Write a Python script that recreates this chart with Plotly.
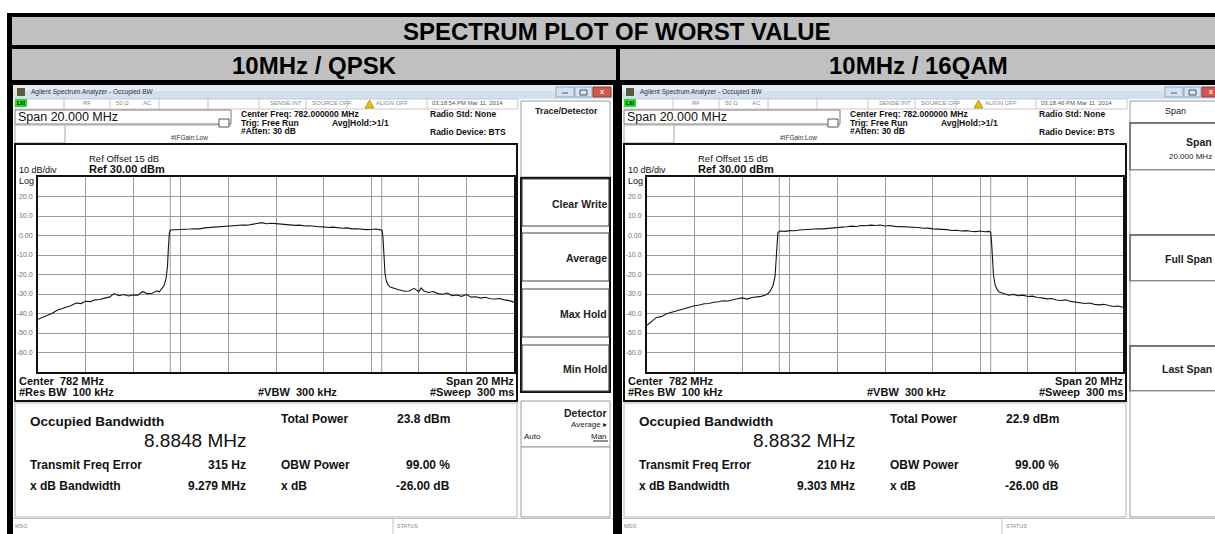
import plotly.graph_objects as go

W, H = 1215, 534
FONT = "Liberation Sans, Arial, Helvetica, sans-serif"

# ---------------- data ----------------
CENTER_MHZ = 782.0
SPAN_MHZ = 20.0
REF_DBM = 30.0
DB_PER_DIV = 10.0

ytick_vals = [20, 10, 0, -10, -20, -30, -40, -50, -60]
ytick_text = ["20.0", "10.0", "0.00", "-10.0", "-20.0", "-30.0", "-40.0", "-50.0", "-60.0"]

qpsk_offset_mhz = [
    -10.0, -9.8, -9.6, -9.4, -9.2, -9.0, -8.8, -8.6, -8.4, -8.2, -8.0, -7.8, -7.6, -7.4, -7.2,
    -7.0, -6.8, -6.6, -6.4, -6.2, -6.0, -5.8, -5.6, -5.4, -5.2, -5.0, -4.9, -4.8, -4.7, -4.62,
    -4.56, -4.52, -4.48, -4.44, -4.2, -4.0, -3.8, -3.6, -3.4, -3.2, -3.0, -2.8, -2.6, -2.4, -2.2,
    -2.0, -1.8, -1.6, -1.4, -1.2, -1.0, -0.8, -0.6, -0.4, -0.2, 0.0, 0.2, 0.4, 0.6, 0.8,
    1.0, 1.2, 1.4, 1.6, 1.8, 2.0, 2.2, 2.4, 2.6, 2.8, 3.0, 3.2, 3.4, 3.6, 3.8,
    4.0, 4.2, 4.4, 4.46, 4.5, 4.54, 4.58, 4.64, 4.72, 4.82, 5.0, 5.2, 5.4, 5.6, 5.8,
    6.0, 6.1, 6.2, 6.4, 6.6, 6.8, 7.0, 7.2, 7.4, 7.6, 7.8, 8.0, 8.2, 8.4, 8.6,
    8.8, 9.0, 9.2, 9.4, 9.6, 9.8, 10.0]
qpsk_dbm = [
    -43.0, -41.9, -40.6, -39.9, -38.3, -37.6, -36.5, -35.9, -34.6, -34.9, -33.7, -33.9, -33.0, -32.8, -32.1,
    -31.6, -29.8, -30.9, -30.3, -31.0, -30.5, -30.6, -28.7, -29.9, -29.6, -28.4, -28.9, -27.2, -25.5, -22.0,
    -16.0, -6.0, 1.5, 2.8, 2.9, 3.1, 2.9, 3.3, 3.5, 3.4, 3.9, 4.1, 4.3, 4.2, 4.7,
    4.9, 4.8, 5.2, 5.4, 5.3, 5.7, 5.9, 6.6, 6.0, 6.3, 6.1, 5.9, 5.5, 5.6, 5.2,
    5.3, 4.9, 5.0, 4.6, 4.5, 4.4, 4.1, 4.3, 3.9, 3.7, 3.9, 3.4, 3.5, 3.2, 3.0,
    3.1, 3.3, 2.9, 2.6, -2.0, -12.0, -19.5, -23.5, -25.6, -26.6, -27.4, -27.9, -28.6, -28.5, -27.1,
    -28.8, -26.9, -28.3, -29.2, -28.7, -29.8, -30.1, -29.5, -30.8, -30.5, -31.2, -30.3, -31.6, -31.4, -32.1,
    -31.7, -32.4, -32.6, -32.3, -33.0, -33.4, -34.2]

qam_offset_mhz = [
    -10.0, -9.8, -9.6, -9.4, -9.2, -9.0, -8.8, -8.6, -8.4, -8.2, -8.0, -7.8, -7.6, -7.4, -7.2,
    -7.0, -6.8, -6.6, -6.4, -6.2, -6.0, -5.8, -5.6, -5.4, -5.2, -5.0, -4.9, -4.8, -4.7, -4.62,
    -4.58, -4.54, -4.5, -4.4, -4.2, -4.0, -3.8, -3.6, -3.4, -3.2, -3.0, -2.8, -2.6, -2.4, -2.2,
    -2.0, -1.8, -1.6, -1.4, -1.2, -1.0, -0.8, -0.6, -0.4, -0.2, 0.0, 0.2, 0.4, 0.6, 0.8,
    1.0, 1.2, 1.4, 1.6, 1.8, 2.0, 2.2, 2.4, 2.6, 2.8, 3.0, 3.2, 3.4, 3.6, 3.8,
    4.0, 4.2, 4.4, 4.44, 4.48, 4.52, 4.56, 4.62, 4.7, 4.8, 5.0, 5.2, 5.4, 5.6, 5.8,
    6.0, 6.2, 6.4, 6.6, 6.8, 7.0, 7.2, 7.4, 7.6, 7.8, 8.0, 8.2, 8.4, 8.6, 8.8,
    9.0, 9.2, 9.4, 9.6, 9.8, 10.0]
qam_dbm = [
    -46.0, -44.2, -42.0, -41.6, -40.3, -39.5, -38.8, -37.9, -37.2, -36.4, -36.0, -35.6, -35.0, -34.9, -34.2,
    -34.0, -33.5, -33.6, -32.9, -32.4, -32.0, -32.6, -31.8, -31.6, -31.2, -30.4, -29.6, -28.0, -25.5, -21.0,
    -13.0, -3.0, 1.6, 2.3, 2.1, 2.5, 2.4, 2.8, 3.0, 2.9, 3.3, 3.5, 3.4, 3.7, 4.0,
    4.1, 4.3, 4.5, 4.8, 4.6, 5.1, 5.0, 5.3, 5.1, 5.4, 4.9, 5.1, 4.7, 4.6, 4.3,
    4.4, 4.0, 4.1, 3.7, 3.8, 3.4, 3.3, 2.9, 3.0, 2.6, 2.7, 2.3, 2.5, 2.2, 2.0,
    2.3, 1.9, 2.1, 1.6, -4.0, -14.0, -20.5, -25.0, -27.5, -29.0, -30.0, -30.6, -30.2, -30.9, -30.6,
    -31.3, -31.1, -31.8, -32.0, -32.5, -32.3, -33.1, -33.3, -33.0, -33.8, -34.1, -34.4, -34.9, -34.6, -35.3,
    -35.6, -35.3, -35.9, -36.4, -36.2, -36.8]

main_title = "SPECTRUM PLOT OF WORST VALUE"
panel_titles = ["10MHz / QPSK", "10MHz / 16QAM"]
timestamps = ["03:18:54 PM Mar 11, 2014", "03:18:46 PM Mar 11, 2014"]
occupied_bw_mhz = [8.8848, 8.8832]
occupied_bw_text = ["8.8848 MHz", "8.8832 MHz"]
total_power = ["23.8 dBm", "22.9 dBm"]
freq_error = ["315 Hz", "210 Hz"]
xdb_bandwidth = ["9.279 MHz", "9.303 MHz"]
obw_power = ["99.00 %", "99.00 %"]
xdb_value = ["-26.00 dB", "-26.00 dB"]

left_softkeys = ["Clear Write", "Average", "Max Hold", "Min Hold"]

traces_x = [qpsk_offset_mhz, qam_offset_mhz]
traces_y = [qpsk_dbm, qam_dbm]

# ---------------- helpers ----------------
shapes = []
annotations = []
NB = "\u00a0"


def px(x):
    return x / W


def py(y):
    return 1 - y / H


def rect(x0, y0, x1, y1, fill="rgba(0,0,0,0)", line=None, lw=1):
    shapes.append(dict(type="rect", xref="paper", yref="paper",
                       x0=px(x0), x1=px(x1), y0=py(y1), y1=py(y0),
                       fillcolor=fill,
                       line=dict(color=line if line else "rgba(0,0,0,0)", width=lw if line else 0),
                       layer="below"))


def seg(x0, y0, x1, y1, color="#999", lw=1):
    shapes.append(dict(type="line", xref="paper", yref="paper",
                       x0=px(x0), x1=px(x1), y0=py(y0), y1=py(y1),
                       line=dict(color=color, width=lw), layer="below"))


def text(x, y, s, size=9, bold=False, color="#111", anchor="left"):
    annotations.append(dict(xref="paper", yref="paper", x=px(x), y=py(y),
                            text=f"<b>{s}</b>" if bold else s, showarrow=False,
                            xanchor=anchor, yanchor="middle", borderpad=0,
                            font=dict(size=size, color=color, family=FONT)))


# ---------------- outer table ----------------
rect(7, 13, W + 5, H + 5, fill="#000000")
rect(12, 17, W + 5, 45, fill="#c0c0c0")
rect(12, 49, 616, 80, fill="#c0c0c0")
rect(620, 49, W + 5, 80, fill="#c0c0c0")
text(617, 31, main_title, size=24, bold=True, color="#000", anchor="center")
text(314, 66, panel_titles[0], size=24, bold=True, color="#000", anchor="center")
text(918, 66, panel_titles[1], size=24, bold=True, color="#000", anchor="center")

fig = go.Figure()


def draw_panel(i, dx):
    X = lambda v: v + dx
    # window
    rect(X(13), 85, X(613), H + 5, fill="#ffffff")
    rect(X(13), 85, X(613), 99, fill="#d3e0ef")
    rect(X(13), 85, X(613), 91, fill="#e2ebf6")
    rect(X(17), 88, X(25), 96, fill="#5d5a35")
    text(X(30), 92, "Agilent Spectrum Analyzer - Occupied BW", size=6.5, color="#333")
    rect(X(556), 87, X(574), 97, fill="#d6e2f0", line="#8ea5c3")
    rect(X(575), 87, X(592), 97, fill="#d6e2f0", line="#8ea5c3")
    rect(X(593), 87, X(611), 97, fill="#d2574d", line="#9c3a33")
    seg(X(562), 93, X(568), 93, color="#556", lw=1)
    text(X(602), 92, "x", size=7, bold=True, color="#fff", anchor="center")
    rect(X(580), 90, X(587), 95, line="#556", lw=1)

    # status row
    rect(X(15), 99, X(518), 109, fill="#ffffff", line="#c8c8c8")
    rect(X(15), 99, X(27), 107, fill="#22dd22")
    text(X(16), 103, "LXI", size=5, bold=True, color="#000")
    for sx in [64, 110, 159, 208, 259, 306, 347, 427]:
        seg(X(sx), 99, X(sx), 109, color="#c8c8c8")
    text(X(82), 103, "RF", size=6, color="#888")
    text(X(115), 103, "50 Ω", size=6, color="#888")
    text(X(142), 103, "AC", size=6, color="#888")
    text(X(269), 103, "SENSE:INT", size=6, color="#888")
    text(X(311), 103, "SOURCE OFF", size=6, color="#888")
    shapes.append(dict(type="path", xref="paper", yref="paper", layer="below",
                       path=f"M {px(X(365))},{py(108)} L {px(X(374))},{py(108)} L {px(X(369.5))},{py(100)} Z",
                       fillcolor="#e8c000", line=dict(color="#7a6400", width=0.5)))
    text(X(375), 103, "ALIGN OFF", size=6, color="#888")
    text(X(431), 103, timestamps[i], size=6, color="#555")

    # span box + header
    rect(X(15), 110, X(231), 124, fill="#ffffff", line="#7a7a7a")
    text(X(17), 117, "Span 20.000 MHz", size=12.5, color="#111")
    rect(X(15), 125, X(65), 143, line="#a8a8a8")
    seg(X(65), 125, X(231), 125, color="#a8a8a8")
    rect(X(219), 119, X(229), 127, fill="#ffffff", line="#555")
    text(X(170), 138, "#IFGain:Low", size=6.5, color="#333")
    text(X(240), 114, "Center Freq: 782.000000 MHz", size=8.5, bold=True)
    text(X(240), 123, "Trig: Free Run", size=8.5, bold=True)
    text(X(331), 123, "Avg|Hold:>1/1", size=8.5, bold=True)
    text(X(240), 131, "#Atten: 30 dB", size=8.5, bold=True)
    text(X(429), 114, "Radio Std: None", size=8.5, bold=True)
    text(X(429), 132, "Radio Device: BTS", size=8.5, bold=True)

    # display frame
    rect(X(15), 144, X(517), 401, fill="#ffffff", line="#111", lw=2)
    text(X(88), 158, "Ref Offset 15 dB", size=9.5, color="#111")
    text(X(88), 169, "Ref 30.00 dBm", size=11, bold=True)
    text(X(18), 170, "10 dB/div", size=9, color="#111")
    text(X(18), 181, "Log", size=9, color="#111")
    text(X(18), 381, f"Center{NB}{NB}782 MHz", size=11, bold=True)
    text(X(18), 392, f"#Res BW{NB}{NB}100 kHz", size=11, bold=True)
    text(X(257), 392, f"#VBW{NB}{NB}300 kHz", size=11, bold=True)
    text(X(515), 381, "Span 20 MHz", size=11, bold=True, anchor="right")
    text(X(515), 392, f"#Sweep{NB}{NB}300 ms", size=11, bold=True, anchor="right")

    # metrics
    rect(X(15), 403, X(517), 517, fill="#ffffff", line="#b4b4b4")
    text(X(29), 421, "Occupied Bandwidth", size=13.5, bold=True)
    text(X(247), 440, occupied_bw_text[i], size=19, color="#111", anchor="right")
    text(X(29), 465, "Transmit Freq Error", size=12, bold=True)
    text(X(247), 465, freq_error[i], size=12, bold=True, anchor="right")
    text(X(29), 486, "x dB Bandwidth", size=12, bold=True)
    text(X(247), 486, xdb_bandwidth[i], size=12, bold=True, anchor="right")
    text(X(280), 419, "Total Power", size=12, bold=True)
    text(X(451), 419, total_power[i], size=12, bold=True, anchor="right")
    text(X(280), 465, "OBW Power", size=12, bold=True)
    text(X(451), 465, obw_power[i], size=12, bold=True, anchor="right")
    text(X(280), 486, "x dB", size=12, bold=True)
    text(X(451), 486, xdb_value[i], size=12, bold=True, anchor="right")

    # message bar
    seg(X(13), 518.5, X(613), 518.5, color="#c4c4c4")
    seg(X(393), 518.5, X(393), H + 2, color="#c4c4c4")
    text(X(14), 525.5, "MSG", size=5.5, color="#888")
    text(X(396), 525.5, "STATUS", size=5.5, color="#888")


draw_panel(0, 0)
draw_panel(1, 609)

# left softkeys (Trace/Detector menu)
rect(521, 101, 610, 177, fill="#ffffff", line="#9a9a9a")
text(566, 111, "Trace/Detector", size=9, bold=True, color="#222", anchor="center")
rect(521, 178, 610, 392, fill="#ffffff", line="#111", lw=2)
btn_spans = [(179, 226), (233, 281), (289, 337), (345, 391)]
for (b0, b1), label in zip(btn_spans, left_softkeys):
    rect(522, b0, 609, b1, line="#444", lw=1.2)
    text(608, (b0 + b1) / 2 + 1, label, size=10.5, bold=True, color="#222", anchor="right")
rect(521, 401, 610, 447, fill="#ffffff", line="#9a9a9a")
text(608, 413, "Detector", size=10.5, bold=True, color="#222", anchor="right")
text(608, 424, "Average ▸", size=8, color="#222", anchor="right")
text(523, 436, "Auto", size=8, color="#222")
text(608, 436, "Man", size=8, color="#222", anchor="right")
seg(593, 441, 608, 441, color="#222", lw=1)
rect(521, 447, 610, 517, fill="#ffffff", line="#9a9a9a")

# right softkeys (Span menu) - panel is cropped at the right edge of the image
RX = 1130
RT = 1213
rect(RX, 101, RX + 95, 123, fill="#ffffff", line="#9a9a9a")
text(1175, 111, "Span", size=9, color="#222", anchor="center")
rect(RX, 123, RX + 95, 170, fill="#ffffff", line="#555", lw=1.5)
text(RT, 142, "Span", size=10.5, bold=True, color="#222", anchor="right")
text(RT, 157, "20.000 MHz", size=8, color="#222", anchor="right")
rect(RX, 170, RX + 95, 235, fill="#ffffff", line="#9a9a9a")
rect(RX, 235, RX + 95, 281, fill="#ffffff", line="#555", lw=1.5)
text(RT, 259, "Full Span", size=10.5, bold=True, color="#222", anchor="right")
rect(RX, 281, RX + 95, 346, fill="#ffffff", line="#9a9a9a")
rect(RX, 346, RX + 95, 391, fill="#ffffff", line="#555", lw=1.5)
text(RT, 369, "Last Span", size=10.5, bold=True, color="#222", anchor="right")
rect(RX, 391, RX + 95, 517, fill="#ffffff", line="#9a9a9a")

# black gap between screenshots
rect(614, 81, 621, H + 5, fill="#000000")

# ---------------- spectrum traces ----------------
graticule_left = [38, 647]
for i in range(2):
    xa = "x" + str(i + 2)
    ya = "y" + str(i + 2)
    fx = [CENTER_MHZ + f for f in traces_x[i]]
    fig.add_trace(go.Scatter(x=fx, y=traces_y[i], mode="lines",
                             line=dict(color="#161616", width=1.1),
                             xaxis=xa, yaxis=ya, showlegend=False, hoverinfo="skip"))
    for sgn in (-1, 1):
        shapes.append(dict(type="line", xref=xa, yref=ya + " domain",
                           x0=CENTER_MHZ + sgn * occupied_bw_mhz[i] / 2,
                           x1=CENTER_MHZ + sgn * occupied_bw_mhz[i] / 2,
                           y0=0, y1=1, line=dict(color="#9a9a9a", width=1), layer="below"))

axis_common_x = dict(range=[CENTER_MHZ - SPAN_MHZ / 2, CENTER_MHZ + SPAN_MHZ / 2],
                     tick0=CENTER_MHZ - SPAN_MHZ / 2, dtick=SPAN_MHZ / 10,
                     showgrid=True, gridcolor="#9a9a9a", gridwidth=1,
                     showticklabels=False, ticks="", zeroline=False,
                     showline=True, mirror=True, linecolor="#111", linewidth=2,
                     fixedrange=True)
axis_common_y = dict(range=[REF_DBM - 10 * DB_PER_DIV, REF_DBM],
                     tickvals=ytick_vals, ticktext=ytick_text,
                     tickfont=dict(size=7, color="#707070", family=FONT),
                     showgrid=True, gridcolor="#9a9a9a", gridwidth=1,
                     ticks="", zeroline=False, ticklabelstandoff=2,
                     showline=True, mirror=True, linecolor="#111", linewidth=2,
                     fixedrange=True)

y_dom = [py(372), py(177)]
layout_axes = {}
for i in range(2):
    gl = graticule_left[i]
    layout_axes["xaxis" + str(i + 2)] = dict(axis_common_x, domain=[px(gl), px(gl + 476)], anchor="y" + str(i + 2))
    layout_axes["yaxis" + str(i + 2)] = dict(axis_common_y, domain=y_dom, anchor="x" + str(i + 2))

fig.update_layout(
    width=W, height=H,
    margin=dict(l=0, r=0, t=0, b=0),
    paper_bgcolor="#ffffff",
    plot_bgcolor="rgba(0,0,0,0)",
    showlegend=False,
    shapes=shapes,
    annotations=annotations,
    **layout_axes,
)

fig.write_html("out.html", config=dict(displayModeBar=False),
               post_script="document.body.style.margin='0';document.body.style.overflow='hidden';")
